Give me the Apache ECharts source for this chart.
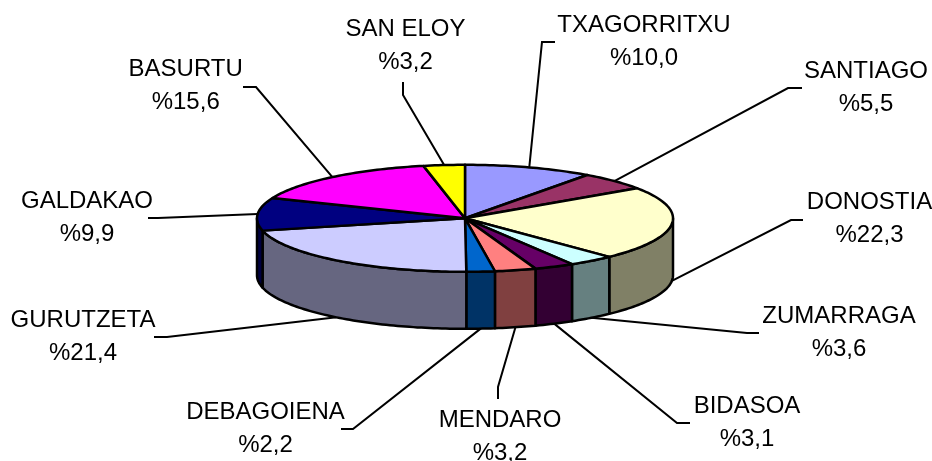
<!DOCTYPE html>
<html>
<head>
<meta charset="utf-8">
<style>html,body{margin:0;padding:0;background:#fff}#c{width:932px;height:461px}</style>
<script src="https://cdn.jsdelivr.net/npm/echarts@6/dist/echarts.min.js"></script>
</head>
<body>
<div id="c"></div>
<script>
// Data
const categories = ['TXAGORRITXU','SANTIAGO','DONOSTIA','ZUMARRAGA','BIDASOA','MENDARO','DEBAGOIENA','GURUTZETA','GALDAKAO','BASURTU','SAN ELOY'];
const values = [10.0,5.5,22.3,3.6,3.1,3.2,2.2,21.4,9.9,15.6,3.2];
// Style
const topColors  = ['#9999FF','#993366','#FFFFCC','#CCFFFF','#660066','#FF8080','#0066CC','#CCCCFF','#000080','#FF00FF','#FFFF00'];
const sideColors = ['#4D4D80','#4D1A33','#808066','#668080','#330033','#804040','#003366','#666680','#000040','#800080','#808000'];
// Layout: label centres and leader-line bend / end points
const labelCenters = [[644,42],[866,88],[869.5,219],[839,333],[747,423],[500,437],[265.5,429],[83,336.5],[87,218],[185.7,85.5],[405.5,46]];
const leaderBends  = [[542,42],[788,88],[791,220],[747,333],[677,423],[498,387],[353,429],[167,337],[158,218],[256,87],[403,95]];
const leaderEnds   = [[555,42],[802,88],[803,220],[759,333],[690,423],[498,399],[341,429],[154,337],[148,218],[243,87],[403,82]];
const pie = {cx:465, cy:218.3, rx:208, ry:53.5, depth:57};

const total = values.reduce((a,b)=>a+b,0);
const starts = []; values.reduce((acc,v,i)=>{starts[i]=acc; return acc+v;},0);
const ang = v => v/total*Math.PI*2;           // clockwise from 12 o'clock
const pt = (a,dy=0) => [pie.cx+pie.rx*Math.sin(a), pie.cy-pie.ry*Math.cos(a)+dy];
const arc = (a0,a1,dy=0) => {
  const n = Math.max(2,Math.ceil((a1-a0)/0.02)), out=[];
  for(let k=0;k<=n;k++) out.push(pt(a0+(a1-a0)*k/n,dy));
  return out;
};
const stroke = {stroke:'#000',lineWidth:2.5,lineJoin:'round'};
const rows = values.map((v,i)=>[i,v]);

function renderSide(params,api){
  const i = api.value(0);
  const a0 = Math.max(ang(starts[i]),Math.PI/2), a1 = Math.min(ang(starts[i]+values[i]),Math.PI*1.5);
  if(a1<=a0) return {type:'group',children:[]};
  const points = arc(a0,a1,0).concat(arc(a0,a1,pie.depth).reverse());
  return {type:'polygon',shape:{points},style:Object.assign({fill:sideColors[i]},stroke),silent:true};
}
function renderTop(params,api){
  const i = api.value(0);
  const a0 = ang(starts[i]), a1 = ang(starts[i]+values[i]);
  const points = [[pie.cx,pie.cy]].concat(arc(a0,a1));
  return {type:'polygon',shape:{points},style:Object.assign({fill:topColors[i]},stroke),silent:true};
}
function renderLabel(params,api){
  const i = api.value(0);
  const mid = ang(starts[i]+values[i]/2);
  const front = Math.cos(mid)<-0.05;
  const anchor = pt(mid, front?pie.depth:0);
  const txt = categories[i]+'\n%'+values[i].toFixed(1).replace('.',',');
  return {type:'group',children:[
    {type:'polyline',shape:{points:[anchor,leaderBends[i],leaderEnds[i]]},style:{stroke:'#000',lineWidth:2,fill:null},silent:true},
    {type:'text',style:{text:txt,x:labelCenters[i][0],y:labelCenters[i][1],align:'center',verticalAlign:'middle',
      fontFamily:'"Liberation Sans",Arial,sans-serif',fontSize:24,lineHeight:33,fill:'#000'},silent:true}
  ]};
}
const chart = echarts.init(document.getElementById('c'),null,{renderer:'canvas'});
chart.setOption({
  animation:false,
  backgroundColor:'#fff',
  series:[
    {type:'custom',name:'labels',coordinateSystem:'none',data:rows,renderItem:renderLabel,z:1},
    {type:'custom',name:'sides',coordinateSystem:'none',data:rows,renderItem:renderSide,z:2},
    {type:'custom',name:'tops',coordinateSystem:'none',data:rows,renderItem:renderTop,z:3}
  ]
});
</script>
</body>
</html>
